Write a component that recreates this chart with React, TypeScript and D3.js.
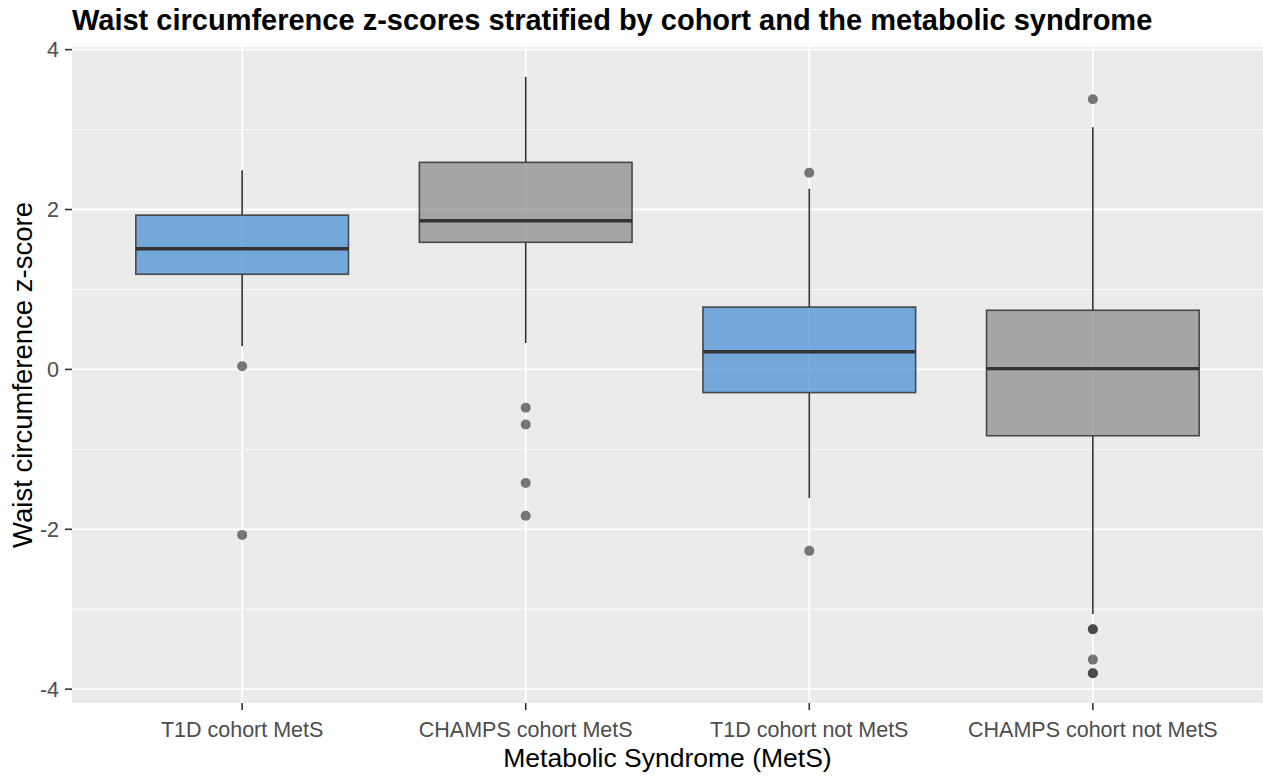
import * as d3 from 'd3';
import { useEffect, useRef } from 'react';

// groups on the x axis
const categories = ['T1D cohort MetS', 'CHAMPS cohort MetS', 'T1D cohort not MetS', 'CHAMPS cohort not MetS'];
const cohorts = ['T1D', 'CHAMPS', 'T1D', 'CHAMPS'];

// box statistics
const lowerWhisker = [0.29, 0.33, -1.61, -3.06];
const q1 = [1.19, 1.59, -0.29, -0.83];
const median = [1.51, 1.86, 0.22, 0.01];
const q3 = [1.93, 2.59, 0.78, 0.74];
const upperWhisker = [2.49, 3.66, 2.26, 3.03];

// outlying points per group
const outliers = [
  [0.04, -2.07],
  [-0.48, -0.69, -1.42, -1.83],
  [2.46, -2.27],
  [3.38, -3.25, -3.25, -3.63, -3.8, -3.8],
];

const yTicks = [-4, -2, 0, 2, 4];
const yMinor = [-3, -1, 1, 3];

const fills = { T1D: '#418BD3', CHAMPS: '#878787' };

const W = 1263;
const H = 778;

const BoxChart = () => {
  const svgRef = useRef(null);

  useEffect(() => {
    document.body.style.margin = '0';
    document.body.style.overflow = 'hidden';

    const svg = d3.select(svgRef.current);
    svg.selectAll('*').remove();
    const margin = { top: 47, right: 0, bottom: 75, left: 72 };
    const width = W - margin.left - margin.right;
    const height = H - margin.top - margin.bottom;

    const allVals = [...lowerWhisker, ...upperWhisker, ...outliers.flat()];
    const lo = d3.min(allVals);
    const hi = d3.max(allVals);
    const pad = (hi - lo) * 0.05;

    const x = d3.scalePoint().domain(categories).range([0, width]).padding(0.6);
    const y = d3.scaleLinear().domain([lo - pad, hi + pad]).range([height, 0]);
    const boxW = x.step() * 0.75;

    const g = svg.append('g').attr('transform', `translate(${margin.left},${margin.top})`);

    g.append('rect').attr('width', width).attr('height', height).attr('fill', '#EBEBEB');

    g.selectAll('.minor')
      .data(yMinor)
      .enter()
      .append('line')
      .attr('x1', 0).attr('x2', width)
      .attr('y1', d => y(d)).attr('y2', d => y(d))
      .attr('stroke', '#fff').attr('stroke-width', 0.9);

    g.selectAll('.major')
      .data(yTicks)
      .enter()
      .append('line')
      .attr('x1', 0).attr('x2', width)
      .attr('y1', d => y(d)).attr('y2', d => y(d))
      .attr('stroke', '#fff').attr('stroke-width', 1.8);

    g.selectAll('.vmajor')
      .data(categories)
      .enter()
      .append('line')
      .attr('x1', d => x(d)).attr('x2', d => x(d))
      .attr('y1', 0).attr('y2', height)
      .attr('stroke', '#fff').attr('stroke-width', 1.8);

    categories.forEach((c, i) => {
      const cx = x(c);
      const box = g.append('g');
      box.append('line')
        .attr('x1', cx).attr('x2', cx)
        .attr('y1', y(upperWhisker[i])).attr('y2', y(q3[i]))
        .attr('stroke', '#333').attr('stroke-width', 1.6);
      box.append('line')
        .attr('x1', cx).attr('x2', cx)
        .attr('y1', y(q1[i])).attr('y2', y(lowerWhisker[i]))
        .attr('stroke', '#333').attr('stroke-width', 1.6);
      box.append('rect')
        .attr('x', cx - boxW / 2)
        .attr('y', y(q3[i]))
        .attr('width', boxW)
        .attr('height', y(q1[i]) - y(q3[i]))
        .attr('fill', fills[cohorts[i]])
        .attr('fill-opacity', 0.7)
        .attr('stroke', '#333')
        .attr('stroke-opacity', 0.85)
        .attr('stroke-width', 1.6);
      box.append('line')
        .attr('x1', cx - boxW / 2).attr('x2', cx + boxW / 2)
        .attr('y1', y(median[i])).attr('y2', y(median[i]))
        .attr('stroke', '#333').attr('stroke-width', 3.4);
      box.selectAll('circle')
        .data(outliers[i])
        .enter()
        .append('circle')
        .attr('cx', cx)
        .attr('cy', d => y(d))
        .attr('r', 5)
        .attr('fill', '#333')
        .attr('fill-opacity', 0.65);
    });

    // y axis
    const yAxis = g.append('g');
    yAxis.selectAll('line')
      .data(yTicks)
      .enter()
      .append('line')
      .attr('x1', -7).attr('x2', 0)
      .attr('y1', d => y(d)).attr('y2', d => y(d))
      .attr('stroke', '#333').attr('stroke-width', 1.6);
    yAxis.selectAll('text')
      .data(yTicks)
      .enter()
      .append('text')
      .attr('x', -13)
      .attr('y', d => y(d))
      .attr('dy', '0.36em')
      .attr('text-anchor', 'end')
      .attr('fill', '#4D4D4D')
      .style('font-size', '21.5px')
      .text(d => d);

    // x axis
    const xAxis = g.append('g').attr('transform', `translate(0,${height})`);
    xAxis.selectAll('line')
      .data(categories)
      .enter()
      .append('line')
      .attr('x1', d => x(d)).attr('x2', d => x(d))
      .attr('y1', 0).attr('y2', 7)
      .attr('stroke', '#333').attr('stroke-width', 1.6);
    xAxis.selectAll('text')
      .data(categories)
      .enter()
      .append('text')
      .attr('x', d => x(d))
      .attr('y', 34)
      .attr('text-anchor', 'middle')
      .attr('fill', '#4D4D4D')
      .style('font-size', '21.5px')
      .text(d => d);

    svg.append('text')
      .attr('x', margin.left + width / 2)
      .attr('y', 767)
      .attr('text-anchor', 'middle')
      .attr('fill', '#000')
      .style('font-size', '26.5px')
      .text('Metabolic Syndrome (MetS)');

    svg.append('text')
      .attr('transform', `translate(32,${margin.top + height / 2}) rotate(-90)`)
      .attr('text-anchor', 'middle')
      .attr('fill', '#000')
      .style('font-size', '27.5px')
      .text('Waist circumference z-score');

    svg.append('text')
      .attr('x', margin.left)
      .attr('y', 30)
      .attr('fill', '#000')
      .style('font-size', '29px')
      .style('font-weight', 'bold')
      .text('Waist circumference z-scores stratified by cohort and the metabolic syndrome');
  }, []);

  return (
    <svg ref={svgRef} width={W} height={H} style={{ display: 'block', fontFamily: '"Liberation Sans", Arial, sans-serif' }}></svg>
  );
};

export default function App() {
  return <BoxChart />;
}
